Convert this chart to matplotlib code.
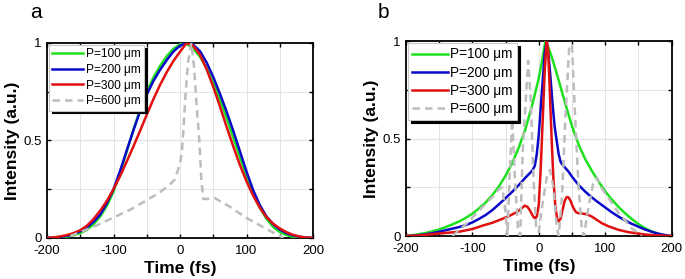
import numpy as np
import matplotlib.pyplot as plt

# constants
DPI = 100
FIG_SIZE = (6.85, 2.79)
plt.rcParams["font.family"] = ["Liberation Sans", "DejaVu Sans"]

GREEN = "#1ee01e"
BLUE = "#0a0ac8"
RED = "#e01010"
GREY = "#bdbdbd"

# --------------------------------------------------------------------------
# data, panel a
a_t = list(range(-200, 201, 10))
a_t_green = [-200, -190, -180, -170, -160, -150, -140, -130, -120, -110, -100,
             -90, -80, -70, -60, -50, -40, -30, -20, -10, 0, 5, 10, 20, 30, 40,
             50, 60, 70, 80, 90, 100, 110, 120, 130, 140, 150, 160, 170, 180,
             190, 200]
a_green = [0, 0.001, 0.003, 0.007, 0.014, 0.025, 0.042, 0.07, 0.11, 0.165,
           0.238, 0.335, 0.445, 0.555, 0.66, 0.75, 0.823, 0.882, 0.932, 0.97,
           0.993, 1.0, 0.995, 0.97, 0.93, 0.87, 0.795, 0.71, 0.615, 0.515,
           0.415, 0.318, 0.23, 0.155, 0.098, 0.057, 0.03, 0.015, 0.006, 0.002,
           0, 0]
a_blue = [0, 0.002, 0.005, 0.011, 0.02, 0.034, 0.054, 0.083, 0.12, 0.178,
          0.25, 0.345, 0.45, 0.553, 0.65, 0.735, 0.805, 0.862, 0.912, 0.956,
          0.986, 1.0, 0.99, 0.958, 0.9, 0.825, 0.74, 0.648, 0.55, 0.445,
          0.34, 0.245, 0.168, 0.11, 0.07, 0.043, 0.025, 0.013, 0.006, 0.002,
          0]
a_red = [0, 0.003, 0.008, 0.015, 0.025, 0.04, 0.063, 0.097, 0.14, 0.19,
         0.25, 0.318, 0.393, 0.47, 0.55, 0.632, 0.712, 0.785, 0.85, 0.907,
         0.955, 1.0, 0.985, 0.94, 0.865, 0.775, 0.675, 0.57, 0.47, 0.375,
         0.29, 0.217, 0.155, 0.107, 0.073, 0.049, 0.03, 0.016, 0.007, 0.002, 0]
a_t_grey = [-165, -150, -125, -100, -75, -54, -30, -15, -8, -4, 0, 3, 5, 8,
            12, 17, 21, 25, 29, 32, 35, 40, 52, 75, 97, 120, 147, 155]
a_grey = [0.01, 0.03, 0.065, 0.105, 0.145, 0.186, 0.235, 0.275, 0.30, 0.34,
          0.38, 0.45, 0.55, 0.72, 0.9, 1.0, 0.88, 0.68, 0.5, 0.3, 0.2, 0.2,
          0.205, 0.16, 0.109, 0.065, 0.015, 0.0]

# --------------------------------------------------------------------------
# data, panel b
b_t_green = [-200, -190, -180, -170, -160, -150, -140, -130, -120, -110, -100,
             -90, -80, -70, -60, -50, -40, -30, -20, -10, 0, 5, 10, 15, 20, 30,
             40, 50, 60, 70, 80, 90, 100, 110, 120, 130, 140, 150, 160, 170,
             180, 190, 200]
b_green = [0, 0.004, 0.01, 0.016, 0.024, 0.034, 0.046, 0.06, 0.075, 0.093,
           0.115, 0.142, 0.172, 0.21, 0.255, 0.31, 0.375, 0.455, 0.55, 0.67,
           0.81, 0.9, 1.0, 0.965, 0.915, 0.8, 0.68, 0.565, 0.47, 0.395, 0.335,
           0.28, 0.23, 0.188, 0.15, 0.117, 0.088, 0.062, 0.04, 0.024, 0.012,
           0.004, 0]
b_t_blue = [-200, -190, -180, -170, -160, -150, -140, -130, -120, -110, -100,
            -90, -80, -70, -60, -50, -40, -30, -20, -10, -6, -3, 0, 3, 6, 9,
            12, 15, 18, 21, 24, 27, 30, 33, 36, 40, 45, 50, 60, 70, 80, 90,
            100, 110, 120, 130, 140, 150, 160, 170, 180, 190, 200]
b_blue = [0, 0.002, 0.005, 0.009, 0.015, 0.022, 0.03, 0.038, 0.046, 0.056,
          0.07, 0.088, 0.108, 0.133, 0.163, 0.195, 0.227, 0.262, 0.30, 0.335,
          0.36, 0.42, 0.52, 0.66, 0.8, 0.94, 1.0, 0.92, 0.8, 0.67, 0.56, 0.49,
          0.42, 0.38, 0.365, 0.35, 0.33, 0.305, 0.262, 0.228, 0.198, 0.172,
          0.147, 0.122, 0.1, 0.08, 0.063, 0.048, 0.034, 0.022, 0.012, 0.005, 0]
b_t_red = [-200, -180, -160, -140, -120, -100, -85, -70, -58, -45, -33, -26,
           -21, -17, -13, -10, -7, -5, -3, 0, 3, 6, 9, 12, 14, 16, 18, 20, 22,
           25, 28, 30, 33, 36, 39, 42, 45, 48, 52, 56, 60, 66, 72, 80, 95, 105,
           120, 135, 145, 160, 175, 200]
b_red = [0, 0.003, 0.01, 0.016, 0.022, 0.036, 0.053, 0.068, 0.084, 0.102,
         0.123, 0.142, 0.156, 0.15, 0.13, 0.11, 0.094, 0.092, 0.1, 0.16, 0.35,
         0.6, 0.85, 1.0, 0.96, 0.8, 0.62, 0.45, 0.3, 0.15, 0.085, 0.075, 0.09,
         0.135, 0.18, 0.2, 0.198, 0.18, 0.145, 0.123, 0.117, 0.115, 0.112,
         0.1, 0.066, 0.05, 0.032, 0.02, 0.015, 0.008, 0.004, 0]
b_t_grey = [-130, -120, -110, -100, -90, -80, -70, -60, -55, -50, -47, -44,
            -40, -36, -31, -28, -24, -16, -12, -8, -4, 0, 5, 12, 17, 22, 27,
            30, 35, 40, 46, 50, 55, 60, 65, 68, 75, 82, 88, 94, 100, 110, 120,
            130, 140, 150, 155]
b_grey = [0.0, 0.03, 0.06, 0.095, 0.13, 0.165, 0.2, 0.24, 0.25, 0.12, 0.0,
          0.3, 0.6, 0.3, 0.02, 0.0, 0.45, 0.9, 0.7, 0.3, 0.05, 0.02, 0.15, 0.3,
          0.34, 0.25, 0.05, 0.0, 0.2, 0.6, 0.98, 0.98, 0.6, 0.25, 0.03, 0.0,
          0.15, 0.27, 0.3, 0.25, 0.22, 0.17, 0.12, 0.08, 0.04, 0.015, 0.0]

labels = ["P=100 μm", "P=200 μm", "P=300 μm", "P=600 μm"]
x_ticks = [-200, -100, 0, 100, 200]
x_tick_labels = ["-200", "-100", "0", "100", "200"]
x_minor = [-150, -50, 50, 150]
y_ticks = [0, 0.5, 1]
y_tick_labels = ["0", "0.5", "1"]
y_minor = [0.25, 0.75]


def style_axes(ax):
    ax.set_xlim(-200, 200)
    ax.set_ylim(0, 1)
    ax.set_xticks(x_ticks)
    ax.set_xticklabels(x_tick_labels)
    ax.set_xticks(x_minor, minor=True)
    ax.set_yticks(y_ticks)
    ax.set_yticklabels(y_tick_labels)
    ax.set_yticks(y_minor, minor=True)
    ax.tick_params(which="both", direction="in", top=True, right=True,
                   length=3, width=1, labelsize=9.5)
    ax.tick_params(axis="x", pad=5)
    ax.tick_params(axis="y", pad=4)
    ax.grid(which="both", color="#e4e4e4", lw=0.7, zorder=0)
    ax.axhline(0.5, color="#b8b8b8", lw=0.8, zorder=0.5)
    for sp in ax.spines.values():
        sp.set_linewidth(1.3)
    ax.set_xlabel("Time (fs)", fontsize=12.5, fontweight="bold", labelpad=3)
    ax.set_ylabel("Intensity (a.u.)", fontsize=12.5, fontweight="bold",
                  labelpad=2)


def draw_panel(ax, curves, legend_size):
    colors = [GREEN, BLUE, RED]
    for (t, y), c, lab in zip(curves[:3], colors, labels[:3]):
        ax.plot(t, y, color=c, lw=1.8, label=lab, zorder=3)
    t, y = curves[3]
    ax.plot(t, y, color=GREY, lw=1.8, ls=(0, (3, 2)), label=labels[3],
            zorder=3)
    style_axes(ax)
    leg = ax.legend(loc="upper left", fontsize=legend_size, frameon=True,
                    fancybox=False, shadow={"color": "black", "alpha": 1},
                    borderaxespad=0.15, handlelength=2.6, handletextpad=0.2,
                    labelspacing=0.3, borderpad=0.3)
    leg.get_frame().set_edgecolor("#c8c8c8")
    leg.get_frame().set_linewidth(0.8)
    leg.get_frame().set_alpha(1)


fig = plt.figure(figsize=FIG_SIZE, dpi=DPI)
ax_a = fig.add_axes([0.0686, 0.147, 0.457 - 0.0686, 0.846 - 0.147])
ax_b = fig.add_axes([0.5927, 0.154, 0.9803 - 0.5927, 0.852 - 0.154])

draw_panel(ax_a, [(a_t_green, a_green), (a_t, a_blue), (a_t, a_red),
                  (a_t_grey, a_grey)], 8.6)
draw_panel(ax_b, [(b_t_green, b_green), (b_t_blue, b_blue),
                  (b_t_red, b_red), (b_t_grey, b_grey)], 9.8)

fig.text(0.044, 0.935, "a", fontsize=15, va="baseline")
fig.text(0.552, 0.935, "b", fontsize=15, va="baseline")

fig.savefig("out.png", dpi=DPI)
plt.close(fig)
